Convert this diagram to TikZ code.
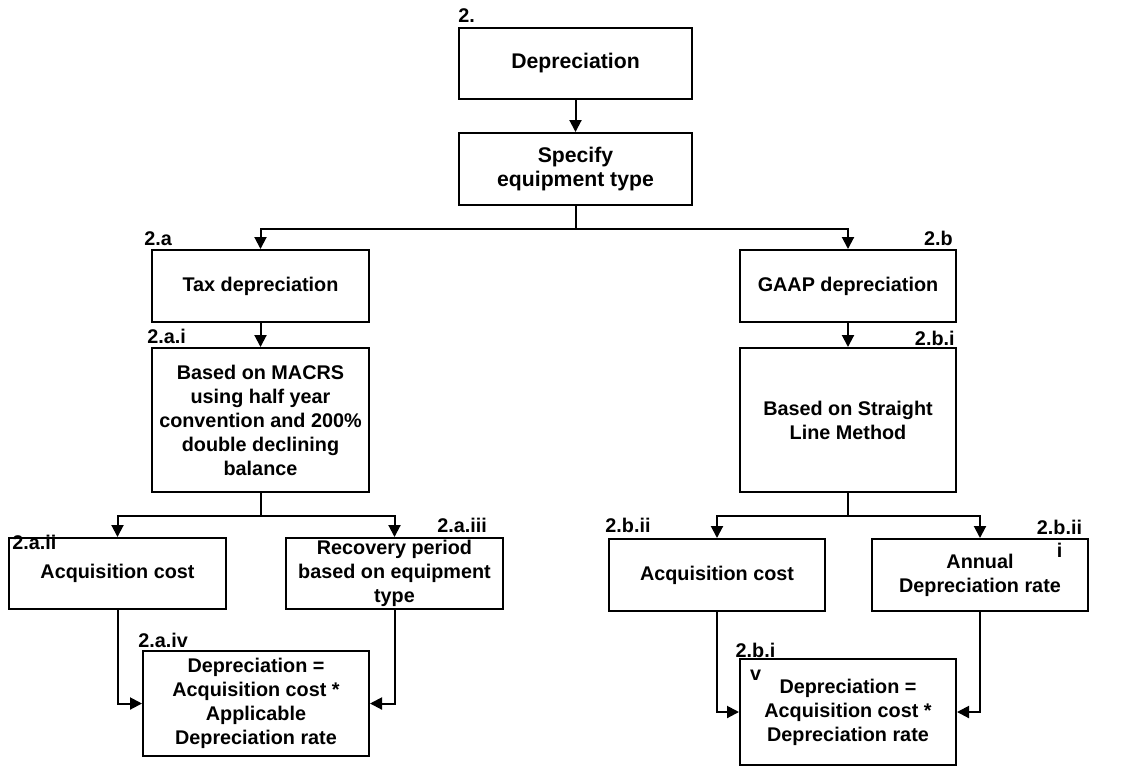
\documentclass[tikz,border=0pt]{standalone}
\usepackage{fontspec}
\setmainfont{Liberation Sans}
\usetikzlibrary{arrows.meta}
\begin{document}
\begin{tikzpicture}[x=0.5pt,y=-0.5pt,
  box/.style={draw, line width=1pt, inner sep=0pt, align=center,
    font=\bfseries\fontsize{9.9}{12}\selectfont},
  bigbox/.style={box, font=\bfseries\fontsize{10.6}{12}\selectfont},
  wide/.style={minimum width=108.5pt},
  short/.style={minimum height=36pt},
  tall/.style={minimum height=72pt},
  tag/.style={inner sep=0pt, align=center, font=\bfseries\fontsize{9.9}{11.5}\selectfont},
  arr/.style={line width=1pt, -{Triangle[length=6pt,width=6pt]}}
]
\useasboundingbox (0,0) rectangle (1125,768);

% top of the tree
\node[bigbox, minimum width=116.5pt, minimum height=35.5pt] (dep) at (575.5,63.5) {Depreciation};
\node[bigbox, minimum width=116.5pt, short] (spec) at (575.5,169) {Specify\\equipment type};

% tax branch
\node[box, wide, short] (tax) at (260.5,286) {Tax depreciation};
\node[box, wide, tall] (macrs) at (260.5,420) {Based on MACRS\\using half year\\convention and 200\%\\double declining\\balance};
\node[box, wide, minimum height=35.5pt] (acqa) at (117.5,573.5) {Acquisition cost};
\node[box, wide, minimum height=35.5pt] (rec) at (394.5,573.5) {Recovery period\\based on equipment\\type};
\node[box, minimum width=113pt, minimum height=52.5pt] (fina) at (256,703.5) {Depreciation =\\Acquisition cost *\\Applicable\\Depreciation rate};

% GAAP branch
\node[box, minimum width=108pt, short] (gaap) at (848,286) {GAAP depreciation};
\node[box, minimum width=108pt, tall] (sl) at (848,420) {Based on Straight\\Line Method};
\node[box, minimum width=108pt, short] (acqb) at (717,575) {Acquisition cost};
\node[box, minimum width=108pt, short] (ann) at (980,575) {Annual\\Depreciation rate};
\node[box, minimum width=108pt, minimum height=53pt] (finb) at (848,712) {Depreciation =\\Acquisition cost *\\Depreciation rate};

% numbering tags
\node[tag, anchor=base west] (t2) at (458,22) {2.};
\node[tag, anchor=base west] (t2a) at (144,245) {2.a};
\node[tag, anchor=base east] (t2b) at (953,245) {2.b};
\node[tag, anchor=base west] (t2ai) at (147,343) {2.a.i};
\node[tag, anchor=base east] (t2bi) at (955,345) {2.b.i};
\node[tag, anchor=base west] (t2aii) at (12,549) {2.a.ii};
\node[tag, anchor=base west] (t2aiii) at (437,532) {2.a.iii};
\node[tag, anchor=base west] (t2aiv) at (138,647) {2.a.iv};
\node[tag, anchor=base west] (t2bii) at (605,532) {2.b.ii};
\node[tag, anchor=north] (t2biii) at (1059.5,520) {2.b.ii\\i};
\node[tag, anchor=north] (t2biv) at (755.5,643) {2.b.i\\v};

% connectors
\draw[arr] (dep) -- (spec);
\draw[arr] (spec.south) -- ++(0,23) -| (tax.north);
\draw[arr] (spec.south) -- ++(0,23) -| (gaap.north);
\draw[arr] (tax) -- (macrs);
\draw[arr] (gaap) -- (sl);
\draw[arr] (macrs.south) -- ++(0,23) -| (acqa.north);
\draw[arr] (macrs.south) -- ++(0,23) -| (rec.north);
\draw[arr] (sl.south) -- ++(0,23) -| (acqb.north);
\draw[arr] (sl.south) -- ++(0,23) -| (ann.north);
\draw[arr] (acqa.south) |- (fina.west);
\draw[arr] (rec.south) |- (fina.east);
\draw[arr] (acqb.south) |- (finb.west);
\draw[arr] (ann.south) |- (finb.east);
\end{tikzpicture}
\end{document}
